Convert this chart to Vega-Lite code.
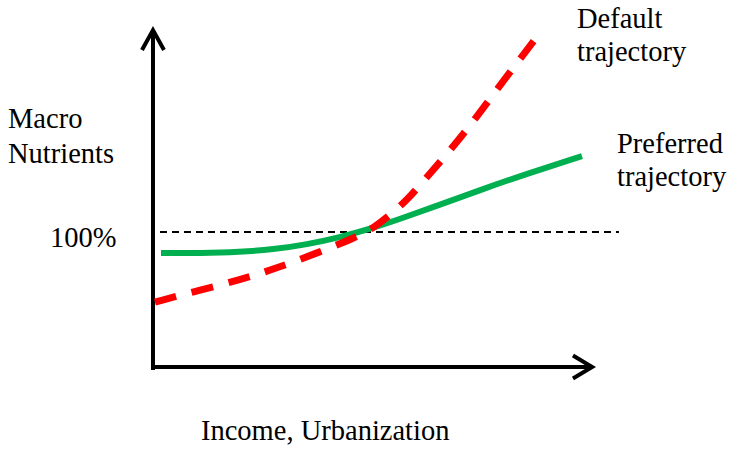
{
  "$schema": "https://vega.github.io/schema/vega-lite/v6.json",
  "width": 733,
  "height": 449,
  "autosize": {"type": "fit", "contains": "padding"},
  "padding": 0,
  "background": "white",
  "config": {"view": {"stroke": null}},
  "datasets": {
    "curves": [
      {"series": "Preferred", "i": 1, "x": 1.82, "y": 84.4},
      {"series": "Preferred", "i": 2, "x": 10.68, "y": 84.4},
      {"series": "Preferred", "i": 3, "x": 19.77, "y": 85.2},
      {"series": "Preferred", "i": 4, "x": 27.27, "y": 87.0},
      {"series": "Preferred", "i": 5, "x": 35.0, "y": 90.8},
      {"series": "Preferred", "i": 6, "x": 42.5, "y": 96.1},
      {"series": "Preferred", "i": 7, "x": 49.32, "y": 102.3},
      {"series": "Preferred", "i": 8, "x": 56.14, "y": 109.6},
      {"series": "Preferred", "i": 9, "x": 65.23, "y": 120.3},
      {"series": "Preferred", "i": 10, "x": 74.32, "y": 131.1},
      {"series": "Preferred", "i": 11, "x": 85.68, "y": 143.9},
      {"series": "Preferred", "i": 12, "x": 97.5, "y": 156.2},
      {"series": "Default", "i": 1, "x": 0.45, "y": 48.1},
      {"series": "Default", "i": 2, "x": 10.68, "y": 57.0},
      {"series": "Default", "i": 3, "x": 19.77, "y": 64.4},
      {"series": "Default", "i": 4, "x": 28.18, "y": 73.3},
      {"series": "Default", "i": 5, "x": 37.27, "y": 84.4},
      {"series": "Default", "i": 6, "x": 46.36, "y": 96.3},
      {"series": "Default", "i": 7, "x": 50.45, "y": 103.7},
      {"series": "Default", "i": 8, "x": 53.86, "y": 112.6},
      {"series": "Default", "i": 9, "x": 57.73, "y": 123.7},
      {"series": "Default", "i": 10, "x": 60.68, "y": 134.8},
      {"series": "Default", "i": 11, "x": 67.05, "y": 158.5},
      {"series": "Default", "i": 12, "x": 72.73, "y": 181.5},
      {"series": "Default", "i": 13, "x": 78.41, "y": 206.7},
      {"series": "Default", "i": 14, "x": 84.09, "y": 231.1},
      {"series": "Default", "i": 15, "x": 87.7, "y": 246.5}
    ],
    "reference": [
      {"i": 1, "x": 1.59, "y": 100},
      {"i": 2, "x": 105.9, "y": 100}
    ],
    "axes": [
      {"part": "yaxis", "i": 1, "x": 0, "y": -2.2},
      {"part": "yaxis", "i": 2, "x": 0, "y": 249.0},
      {"part": "yhead", "i": 1, "x": -2.5, "y": 234.8},
      {"part": "yhead", "i": 2, "x": 0, "y": 249.6},
      {"part": "yhead", "i": 3, "x": 2.5, "y": 234.8},
      {"part": "xaxis", "i": 1, "x": -0.45, "y": 0},
      {"part": "xaxis", "i": 2, "x": 99.5, "y": 0},
      {"part": "xhead", "i": 1, "x": 95.45, "y": 8.5},
      {"part": "xhead", "i": 2, "x": 99.8, "y": 0},
      {"part": "xhead", "i": 3, "x": 95.45, "y": -8.5}
    ],
    "labels": [
      {"text": "Default", "x": 96.36, "y": 251.1},
      {"text": "trajectory", "x": 96.36, "y": 226.7},
      {"text": "Preferred", "x": 105.45, "y": 158.5},
      {"text": "trajectory", "x": 105.45, "y": 134.1},
      {"text": "Macro", "x": -32.95, "y": 177.0},
      {"text": "Nutrients", "x": -32.95, "y": 151.1},
      {"text": "100%", "x": -23.4, "y": 88.9},
      {"text": "Income, Urbanization", "x": 10.9, "y": -54.1}
    ]
  },
  "encoding": {
    "x": {"field": "x", "type": "quantitative", "scale": {"domain": [-34.77, 131.82], "nice": false, "zero": false}, "axis": null},
    "y": {"field": "y", "type": "quantitative", "scale": {"domain": [-60.74, 271.85], "nice": false, "zero": false}, "axis": null}
  },
  "layer": [
    {
      "data": {"name": "reference"},
      "mark": {"type": "line", "color": "black", "strokeWidth": 1.8, "strokeDash": [7, 5]},
      "encoding": {"order": {"field": "i", "type": "quantitative"}}
    },
    {
      "data": {"name": "axes"},
      "mark": {"type": "line", "color": "black", "strokeWidth": 4, "strokeJoin": "miter", "strokeCap": "butt"},
      "encoding": {
        "detail": {"field": "part", "type": "nominal"},
        "order": {"field": "i", "type": "quantitative"}
      }
    },
    {
      "data": {"name": "curves"},
      "transform": [{"filter": "datum.series === 'Preferred'"}],
      "mark": {"type": "line", "color": "#00B050", "strokeWidth": 6, "interpolate": "basis"},
      "encoding": {"order": {"field": "i", "type": "quantitative"}}
    },
    {
      "data": {"name": "curves"},
      "transform": [{"filter": "datum.series === 'Default'"}],
      "mark": {"type": "line", "color": "#FF0000", "strokeWidth": 7, "strokeDash": [22, 16], "interpolate": "basis"},
      "encoding": {"order": {"field": "i", "type": "quantitative"}}
    },
    {
      "data": {"name": "labels"},
      "mark": {"type": "text", "align": "left", "baseline": "alphabetic", "font": "Liberation Serif", "fontSize": 28.5, "color": "black"},
      "encoding": {"text": {"field": "text", "type": "nominal"}}
    }
  ]
}
